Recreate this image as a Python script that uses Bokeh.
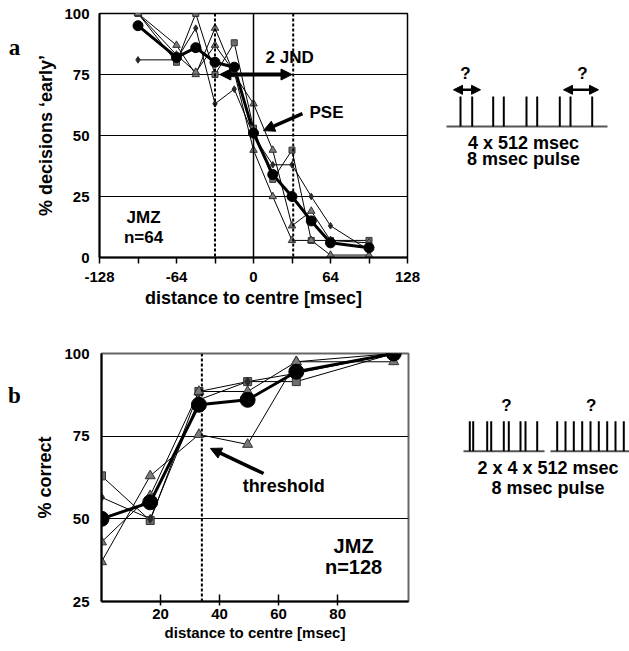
from bokeh.plotting import figure
from bokeh.layouts import column, row
from bokeh.models import Range1d, FixedTicker, Label, Arrow, NormalHead, Span
from bokeh.embed import file_html
from bokeh.resources import INLINE

# ---------------- data: panel a ----------------
xa = [-96, -64, -48, -32, -16, 0, 16, 32, 48, 64, 96]
mean_a = [95, 82, 86, 80, 78, 51, 34, 25, 15, 6, 4]
sq_a = [100, 80, 100, 75, 88, 53, 32, 44, 7, 7, 7]
triA_a = [100, 87, 75, 94, 75, 63, 44, 13, 19, 7, 6]
triB_a = [100, 83, 76, 87, 76, 44, 25, 7, 7, 1, 1]
dia_a = [81, 81, 94, 63, 69, 50, 38, 38, 25, 13, 3]
jnd_lo, jnd_hi = -32, 33
pse_x = 0
xa_ticks = [-128, -64, 0, 64, 128]
xa_minor = [-96, -32, 32, 96]
ya_ticks = [0, 25, 50, 75, 100]

# ---------------- data: panel b ----------------
xb = [0, 16.5, 33, 49.5, 66, 99]
mean_b = [50, 55, 84.5, 86, 94.5, 100]
sq_b = [63, 49.5, 88.5, 91.5, 91.5, 100]
triA_b = [37, 63, 75.5, 72.5, 97.5, 97.5]
triB_b = [43, 57, 88.5, 88.5, 97.5, 100]
dia_b = [56.5, 50, 86, 91.5, 94, 100]
threshold_x = 34
xb_ticks = [20, 40, 60, 80]
yb_ticks = [25, 50, 75, 100]

# ---------------- schematic geometry (page pixel units) ----------------
pulses_a = [460, 471.7, 492.7, 503.3, 526, 536.7, 559.3, 570, 591.7]
pulses_b_left = [469.3, 472.7, 486.7, 490.7, 503.3, 508.3, 520, 525, 536.7]
pulses_b_right = [556.7, 565, 573.3, 581.7, 590, 598.3, 606.7, 615, 623.3]

FONT = "Liberation Sans"

# layout geometry
TOP_A, FH_A, BOT_A = 13, 244, 63
TOP_B, FH_B, BOT_B = 33, 248, 50
LW = 30          # letter column width
SW = 201         # schematic width


def style_axes(p, tick_size, label_size):
    for ax in (p.xaxis, p.yaxis):
        ax.axis_line_color = "black"
        ax.axis_line_width = 2
        ax.major_label_text_font = FONT
        ax.major_label_text_font_style = "bold"
        ax.major_label_text_font_size = tick_size
        ax.major_label_text_color = "black"
        ax.axis_label_text_font = FONT
        ax.axis_label_text_font_style = "bold"
        ax.axis_label_text_font_size = label_size
        ax.axis_label_text_color = "black"
        ax.major_tick_line_color = "black"
        ax.minor_tick_line_color = "black"
        ax.major_tick_line_width = 1.5
        ax.minor_tick_line_width = 1.5


def draw_series(p, x, ind, mean, big, small):
    for ys in ind:
        p.line(x, ys, line_color="black", line_width=1)
    p.line(x, mean, line_color="black", line_width=3)
    sq, ta, tb, di = ind
    p.scatter(x, sq, marker="square", size=small, fill_color="#6d6d6d", line_color="#333333")
    p.scatter(x, ta, marker="triangle", size=small * 1.25, fill_color="#7a7a7a", line_color="#333333")
    p.scatter(x, tb, marker="triangle", size=small * 1.25, fill_color="#7a7a7a", line_color="#333333")
    p.scatter(x, di, marker="diamond", size=small * 1.1, fill_color="#2a2a2a", line_color="#2a2a2a")
    p.scatter(x, mean, marker="circle", size=big, fill_color="black", line_color="black")


def label(p, x, y, text, size, font=FONT, align="center"):
    p.add_layout(Label(x=x, y=y, text=text, text_font=font, text_font_style="bold",
                       text_font_size=size, text_align=align, text_baseline="middle",
                       text_color="black"))


def blank(width, height_top, fh, height_bot, xr, yr):
    s = figure(frame_width=width, frame_height=fh, min_border_left=0, min_border_right=0,
               min_border_top=height_top, min_border_bottom=height_bot,
               x_range=Range1d(*xr), y_range=Range1d(*yr),
               x_axis_location=None, y_axis_location=None,
               toolbar_location=None, output_backend="svg")
    s.grid.visible = False
    s.outline_line_color = None
    return s


# ---------------- panel a ----------------
pa = figure(frame_width=308, frame_height=FH_A, min_border_left=99 - LW, min_border_right=21,
            min_border_top=TOP_A, min_border_bottom=BOT_A,
            x_range=Range1d(-128, 128), y_range=Range1d(0, 100),
            toolbar_location=None, output_backend="svg")
style_axes(pa, "15px", "18px")
pa.xaxis.ticker = FixedTicker(ticks=xa_ticks, minor_ticks=xa_minor)
pa.xaxis.major_label_overrides = {t: str(t) for t in xa_ticks}
pa.xaxis.major_tick_out = 6
pa.xaxis.major_tick_in = 0
pa.xaxis.minor_tick_out = 6
pa.xaxis.minor_tick_in = 0
pa.xaxis.major_label_standoff = 8
pa.xaxis.axis_label = "distance to centre [msec]"
pa.xaxis.axis_label_standoff = 3
pa.yaxis.ticker = FixedTicker(ticks=ya_ticks)
pa.yaxis.major_tick_out = 0
pa.yaxis.major_tick_in = 0
pa.yaxis.minor_tick_out = 0
pa.yaxis.major_label_standoff = 10
pa.yaxis.axis_label = "% decisions \u2018early\u2019"
pa.yaxis.axis_label_standoff = 5
pa.xgrid.visible = False
pa.ygrid.ticker = FixedTicker(ticks=[25, 50, 75, 100])
pa.ygrid.grid_line_color = "black"
pa.ygrid.grid_line_alpha = 1
pa.ygrid.grid_line_width = 1
pa.outline_line_color = "black"
pa.outline_line_width = 1.5

pa.add_layout(Span(location=pse_x, dimension="height", line_color="black", line_width=1.5))
for loc in (jnd_lo, jnd_hi):
    pa.add_layout(Span(location=loc, dimension="height", line_color="black",
                       line_width=2, line_dash="3 2"))

draw_series(pa, xa, [sq_a, triA_a, triB_a, dia_a], mean_a, 10, 6)

pa.add_layout(Arrow(x_start=-28, y_start=75, x_end=32, y_end=75, line_width=4, line_color="black",
                    start=NormalHead(size=11, fill_color="black", line_color="black"),
                    end=NormalHead(size=11, fill_color="black", line_color="black")))
pa.add_layout(Arrow(x_start=40.7, y_start=59, x_end=8.3, y_end=52, line_width=3.5, line_color="black",
                    end=NormalHead(size=11, fill_color="black", line_color="black")))
label(pa, 30, 82, "2 JND", "17px")
label(pa, 60.7, 59.4, "PSE", "17px")
label(pa, -91.4, 16.4, "JMZ", "17px")
label(pa, -91.4, 8.2, "n=64", "17px")

la = blank(LW, TOP_A, FH_A, BOT_A, (0, LW), (TOP_A + FH_A, TOP_A))
label(la, 14, 47, "a", "23px", font="Liberation Serif")

# top schematic, page pixel coordinates
sa = blank(SW, TOP_A, FH_A, BOT_A, (428, 428 + SW), (TOP_A + FH_A, TOP_A))
sa.segment(x0=[446], y0=[126], x1=[607], y1=[126], line_color="#555555", line_width=2)
sa.segment(x0=pulses_a, y0=[96] * len(pulses_a), x1=pulses_a, y1=[126] * len(pulses_a),
           line_color="black", line_width=2)
for xs, xe in ((453, 480), (563, 598)):
    sa.add_layout(Arrow(x_start=xs, y_start=89.3, x_end=xe, y_end=89.3, line_width=2.5,
                        line_color="black",
                        start=NormalHead(size=9, fill_color="black", line_color="black"),
                        end=NormalHead(size=9, fill_color="black", line_color="black")))
label(sa, 465, 73, "?", "17px")
label(sa, 582, 73, "?", "17px")
label(sa, 523, 142, "4 x 512 msec", "18px")
label(sa, 523, 158, "8 msec pulse", "18px")

# ---------------- panel b ----------------
pb = figure(frame_width=307, frame_height=FH_B, min_border_left=101 - LW, min_border_right=20,
            min_border_top=TOP_B, min_border_bottom=BOT_B,
            x_range=Range1d(0, 104), y_range=Range1d(25, 100),
            toolbar_location=None, output_backend="svg")
style_axes(pb, "15px", "15px")
pb.xaxis.ticker = FixedTicker(ticks=xb_ticks)
pb.xaxis.major_tick_out = 4
pb.xaxis.major_tick_in = 7
pb.xaxis.minor_tick_out = 0
pb.xaxis.minor_tick_in = 0
pb.xaxis.major_label_standoff = 3
pb.xaxis.axis_label = "distance to centre [msec]"
pb.xaxis.axis_label_standoff = 2
pb.yaxis.ticker = FixedTicker(ticks=yb_ticks)
pb.yaxis.major_tick_out = 0
pb.yaxis.major_tick_in = 0
pb.yaxis.minor_tick_out = 0
pb.yaxis.major_label_standoff = 12
pb.yaxis.axis_label = "% correct"
pb.yaxis.axis_label_text_font_size = "18px"
pb.yaxis.axis_label_standoff = 6
pb.xgrid.visible = False
pb.ygrid.ticker = FixedTicker(ticks=[50, 75])
pb.ygrid.grid_line_color = "black"
pb.ygrid.grid_line_alpha = 1
pb.ygrid.grid_line_width = 1
pb.outline_line_color = "#666666"
pb.outline_line_width = 2

pb.add_layout(Span(location=threshold_x, dimension="height", line_color="black",
                   line_width=2, line_dash="3 2"))

draw_series(pb, xb, [sq_b, triA_b, triB_b, dia_b], mean_b, 15, 8)

pb.add_layout(Arrow(x_start=54.9, y_start=63.7, x_end=36.9, y_end=71.3, line_width=3.5, line_color="black",
                    end=NormalHead(size=11, fill_color="black", line_color="black")))
label(pb, 61.7, 59.8, "threshold", "18px")
label(pb, 85.4, 41.9, "JMZ", "20px")
label(pb, 85.4, 35.3, "n=128", "20px")

PB_Y0 = 320  # page y where the lower row starts
lb = blank(LW, TOP_B, FH_B, BOT_B, (0, LW), (PB_Y0 + TOP_B + FH_B, PB_Y0 + TOP_B))
label(lb, 14, 395, "b", "23px", font="Liberation Serif")

sb = blank(SW, TOP_B, FH_B, BOT_B, (428, 428 + SW), (PB_Y0 + TOP_B + FH_B, PB_Y0 + TOP_B))
sb.segment(x0=[463, 550], y0=[450.7, 450.7], x1=[544, 629], y1=[450.7, 450.7],
           line_color="#555555", line_width=2)
pb_all = pulses_b_left + pulses_b_right
sb.segment(x0=pb_all, y0=[420.7] * len(pb_all), x1=pb_all, y1=[450.7] * len(pb_all),
           line_color="black", line_width=2)
label(sb, 506, 405, "?", "17px")
label(sb, 590.7, 405, "?", "17px")
label(sb, 547.5, 467, "2 x 4 x 512 msec", "18px")
label(sb, 547.5, 487, "8 msec pulse", "18px")

layout = column(row(la, pa, sa), row(lb, pb, sb))
open("out.html", "w").write(file_html(layout, INLINE))
